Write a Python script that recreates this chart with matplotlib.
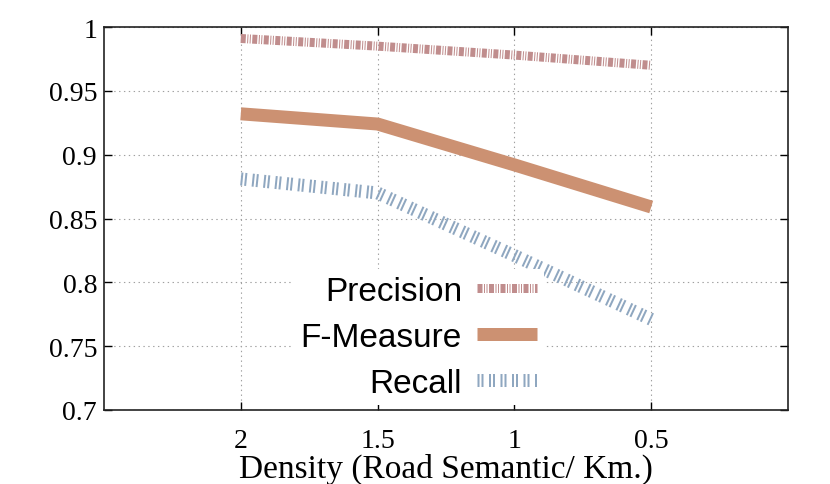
import matplotlib
matplotlib.use("Agg")
import matplotlib.pyplot as plt

categories = ["2", "1.5", "1", "0.5"]
precision = [0.991, 0.985, 0.978, 0.970]
fmeasure = [0.932, 0.924, 0.892, 0.859]
recall = [0.881, 0.870, 0.821, 0.771]
yticks = [0.7, 0.75, 0.8, 0.85, 0.9, 0.95, 1.0]
ytick_labels = ["0.7", "0.75", "0.8", "0.85", "0.9", "0.95", "1"]

plt.rcParams['lines.scale_dashes'] = False
px = 0.72  # points per pixel at dpi 100

fig = plt.figure(figsize=(8.3, 4.85), dpi=100)
ax = fig.add_axes([104/830, 1-411/485, (788-104)/830, (411-28)/485])

x = list(range(1, len(categories) + 1))

lp, = ax.plot(x, precision, color="#c08d8d", lw=9*px, solid_capstyle="butt",
              dash_capstyle="butt", label="Precision")
lp.set_dashes((5*px, 1.5*px, 1*px, 1.5*px, 1*px, 1.5*px))
lf, = ax.plot(x, fmeasure, color="#cc9172", lw=13*px, solid_capstyle="butt",
              label="F-Measure")
lr, = ax.plot(x, recall, color="#8fa7c0", lw=13*px, dash_capstyle="butt",
              label="Recall")
lr.set_dashes((2*px, 2*px, 2*px, 5.5*px))

ax.set_xlim(0, 5)
ax.set_ylim(0.7, 1.0)
ax.set_xticks(x)
ax.set_xticklabels(categories, family="Liberation Serif", fontsize=20)
ax.set_yticks(yticks)
ax.set_yticklabels(ytick_labels, family="Liberation Serif", fontsize=20)
ax.tick_params(direction="in", length=6, width=1, top=True, right=True,
               pad=5, colors="black")
ax.tick_params(axis="x", pad=13)
ax.grid(True, color="#a0a0a0", lw=0.8, linestyle=(0, (1, 2.5)))
ax.set_axisbelow(True)
for s in ax.spines.values():
    s.set_linewidth(1.2)
    s.set_color("#222222")

ax.set_xlabel("Density (Road Semantic/ Km.)", family="Liberation Serif",
              fontsize=24, labelpad=0)

leg = ax.legend(loc="upper left", bbox_to_anchor=((294-104)/684, 1-(270-28)/383),
                markerfirst=False, frameon=True, framealpha=1.0,
                edgecolor="none", facecolor="white", fancybox=False,
                prop={"family": "Liberation Sans", "size": 24},
                handlelength=1.8, handletextpad=0.45, labelspacing=0.45,
                borderpad=0.2, borderaxespad=0)
for t in leg.get_texts():
    t.set_ha("right")

fig.savefig("out.png", dpi=100)
